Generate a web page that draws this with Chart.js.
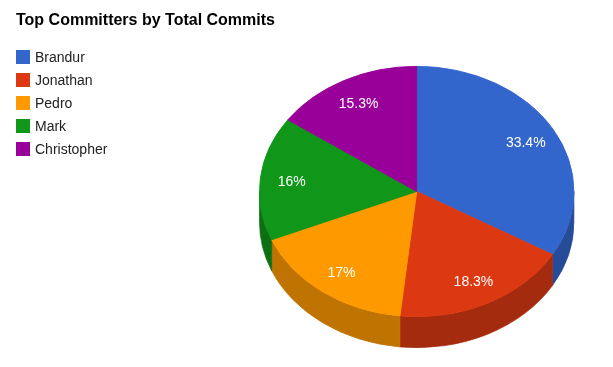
<!DOCTYPE html>
<html><head><meta charset="utf-8">
<script src="https://cdn.jsdelivr.net/npm/chart.js@4/dist/chart.umd.min.js"></script>
<style>html,body{margin:0;padding:0;background:#fff;overflow:hidden}canvas{display:block}</style>
</head><body>
<canvas id="c" width="613" height="367"></canvas>
<script>
const chartTitle = 'Top Committers by Total Commits';
const categories = ['Brandur', 'Jonathan', 'Pedro', 'Mark', 'Christopher'];
const commitShare = [33.4, 18.3, 17, 16, 15.3];
const sliceColors = ['#3366cc', '#dc3912', '#ff9900', '#109618', '#990099'];
const wallColors = ['#264c99', '#a52b0e', '#bf7300', '#0c7012', '#730073'];

const TILT = 0.796, DEPTH = 31, LABEL_F = 0.8;
const FONT = '"Liberation Sans", Arial, sans-serif';

function fmtPct(v, total) {
  const p = Math.round(v / total * 1000) / 10;
  return p + '%';
}

const pie3d = {
  id: 'pie3d',
  beforeDatasetsDraw(chart) {
    const ctx = chart.ctx, meta = chart.getDatasetMeta(0);
    const a0 = meta.data[0];
    const cx = a0.x, cy = a0.y, r = a0.outerRadius;
    ctx.save();
    ctx.translate(cx, cy); ctx.scale(1, TILT); ctx.translate(-cx, -cy);
    meta.data.forEach((arc, i) => {
      const s = Math.max(arc.startAngle, 0), e = Math.min(arc.endAngle, Math.PI);
      if (e <= s) return;
      ctx.beginPath();
      ctx.arc(cx, cy, r, s, e);
      ctx.arc(cx, cy + DEPTH / TILT, r, e, s, true);
      ctx.closePath();
      ctx.fillStyle = wallColors[i];
      ctx.fill();
      ctx.strokeStyle = wallColors[i];
      ctx.lineWidth = 0.8;
      ctx.stroke();
    });
  },
  afterDatasetsDraw(chart) {
    const ctx = chart.ctx;
    ctx.restore();
    const meta = chart.getDatasetMeta(0);
    const vals = chart.data.datasets[0].data;
    const total = vals.reduce((a, b) => a + b, 0);
    ctx.save();
    ctx.font = '14px ' + FONT;
    ctx.fillStyle = '#ffffff';
    ctx.textAlign = 'center';
    ctx.textBaseline = 'alphabetic';
    meta.data.forEach((arc, i) => {
      const mid = (arc.startAngle + arc.endAngle) / 2;
      const x = arc.x + LABEL_F * arc.outerRadius * Math.cos(mid);
      const y = arc.y + LABEL_F * arc.outerRadius * TILT * Math.sin(mid);
      ctx.fillText(fmtPct(vals[i], total), x, y + 5);
    });
    ctx.restore();
  },
  afterDraw(chart) {
    const ctx = chart.ctx;
    ctx.save();
    ctx.fillStyle = '#000000';
    ctx.font = 'bold 16px ' + FONT;
    ctx.textAlign = 'left';
    ctx.textBaseline = 'alphabetic';
    ctx.fillText(chartTitle, 16, 25);
    ctx.font = '14px ' + FONT;
    chart.data.labels.forEach((lab, i) => {
      ctx.fillStyle = chart.data.datasets[0].backgroundColor[i];
      ctx.fillRect(16, 50 + 23 * i, 14, 14);
      ctx.fillStyle = '#222222';
      ctx.fillText(lab, 35, 62 + 23 * i);
    });
    ctx.restore();
  }
};

new Chart(document.getElementById('c'), {
  type: 'pie',
  data: {
    labels: categories,
    datasets: [{
      data: commitShare,
      backgroundColor: sliceColors,
      borderColor: sliceColors,
      borderWidth: 1,
      clip: false,
      radius: 157.2
    }]
  },
  options: {
    responsive: false,
    animation: false,
    devicePixelRatio: 1,
    layout: { padding: { left: 259, top: 33.8, right: 38.6, bottom: 17.8 } },
    plugins: { legend: { display: false }, title: { display: false }, tooltip: { enabled: false } },
    events: []
  },
  plugins: [pie3d]
});
</script>
</body></html>
